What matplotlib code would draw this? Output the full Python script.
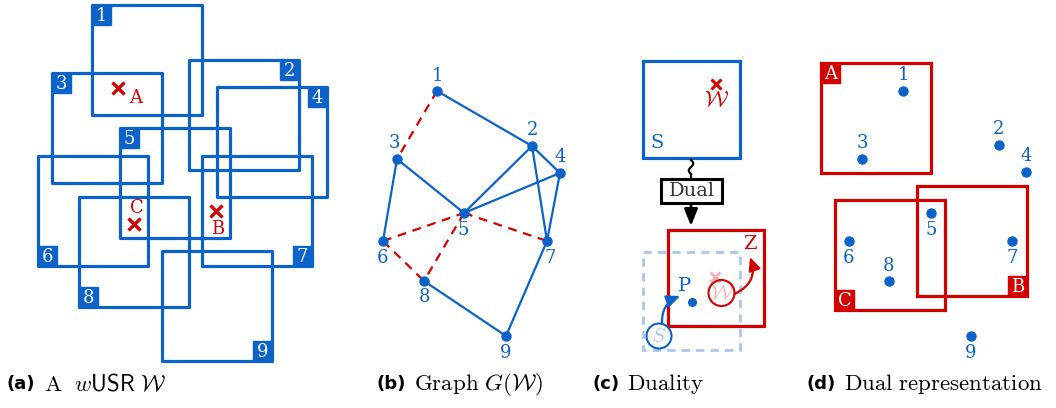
import numpy as np
import matplotlib
matplotlib.use("Agg")
import matplotlib.pyplot as plt
from matplotlib.patches import Rectangle, Circle, FancyArrowPatch

plt.rcParams['mathtext.fontset'] = 'cm'

BLUE = "#0b63c9"
RED = "#d40000"
LBLUE = "#a9c8ec"

# ---------------- data ----------------
# panel (a): squares (label, left, top) in pixel units, side ~110
sq_labels = ["1", "2", "3", "4", "5", "6", "7", "8", "9"]
sq_left = [92, 189, 52, 217, 120, 38, 202, 79, 162]
sq_top = [5, 60, 73, 87, 128, 156, 156, 197, 251]
sq_corner = ["tl", "tr", "tl", "tr", "tl", "bl", "br", "bl", "br"]
SQ = 110

# points A, B, C in panel (a)
pt_labels = ["A", "B", "C"]
pt_x = [118, 216, 134]
pt_y = [88, 211, 224]
pt_label_off = [(18, 10), (2, 18), (3, -16)]

# panel (b): graph nodes
node_labels = ["1", "2", "3", "4", "5", "6", "7", "8", "9"]
node_x = [437, 532, 397, 560, 464, 383, 547, 424, 506]
node_y = [91, 146, 159, 173, 213, 241, 241, 281, 336]
node_lab_off = [(0, -15), (0, -16), (-3, -16), (0, -16), (-1, 17), (-1, 17), (3, 17), (0, 16), (0, 17)]
edges_solid = [(1, 2), (3, 5), (3, 6), (2, 5), (2, 4), (2, 7), (4, 5), (4, 7), (7, 9), (8, 9)]
edges_dashed = [(1, 3), (6, 5), (5, 7), (6, 8), (5, 8)]

# panel (d): dual points and red squares
dual_x = [903, 999, 862, 1026, 931, 849, 1012, 889, 971]
dual_y = [91, 145, 159, 172, 213, 241, 241, 281, 336]
dual_lab_off = [(0, -16), (0, -16), (0, -16), (0, -16), (0, 17), (0, 17), (0, 17), (0, -15), (0, 17)]
red_labels = ["A", "B", "C"]
red_left = [821, 917, 835]
red_top = [63, 186, 200]
red_corner = ["tl", "br", "bl"]

captions = [r"$\mathrm{A}\ \ w\mathsf{USR}\ \mathcal{W}$", r"$\mathrm{Graph}\ G(\mathcal{W})$",
            r"$\mathrm{Duality}$", r"$\mathrm{Dual\ representation}$"]
caption_tags = ["(a)", "(b)", "(c)", "(d)"]
caption_x = [7, 376, 592, 806]

# ---------------- figure ----------------
fig = plt.figure(figsize=(10.56, 4.08), dpi=100)
ax = fig.add_axes([0, 0, 1, 1])
ax.set_xlim(0, 1056)
ax.set_ylim(408, 0)
ax.axis("off")

LW = 2.3
BW, BH = 19, 20


def tag_box(x0, y0, corner, text, color):
    if corner == "tl":
        bx, by = x0, y0
    elif corner == "tr":
        bx, by = x0 + SQ - BW, y0
    elif corner == "bl":
        bx, by = x0, y0 + SQ - BH
    else:
        bx, by = x0 + SQ - BW, y0 + SQ - BH
    ax.add_patch(Rectangle((bx, by), BW, BH, facecolor=color, edgecolor=color, lw=1, zorder=3))
    ax.text(bx + BW / 2, by + BH / 2 + 1, text, color="white", ha="center", va="center",
            fontsize=13, family="DejaVu Serif", zorder=4)


# panel (a)
for lab, l, t, c in zip(sq_labels, sq_left, sq_top, sq_corner):
    ax.add_patch(Rectangle((l, t), SQ, SQ, fill=False, edgecolor=BLUE, lw=LW, zorder=2,
                           joinstyle="round"))
    tag_box(l, t, c, lab, BLUE)

for lab, x, y, off in zip(pt_labels, pt_x, pt_y, pt_label_off):
    ax.plot(x, y, marker="x", ms=9, mew=2.4, color=RED, zorder=5)
    ax.text(x + off[0], y + off[1], lab, color=RED, ha="center", va="center",
            fontsize=13, family="DejaVu Serif", zorder=5)

# panel (b)
for a, b in edges_solid:
    ax.plot([node_x[a - 1], node_x[b - 1]], [node_y[a - 1], node_y[b - 1]], color=BLUE, lw=1.6, zorder=2)
for a, b in edges_dashed:
    ax.plot([node_x[a - 1], node_x[b - 1]], [node_y[a - 1], node_y[b - 1]], color=RED, lw=1.6,
            ls=(0, (4, 3)), zorder=2)
ax.plot(node_x, node_y, "o", ms=6.5, color=BLUE, zorder=3)
for lab, x, y, off in zip(node_labels, node_x, node_y, node_lab_off):
    ax.text(x + off[0], y + off[1], lab, color=BLUE, ha="center", va="center",
            fontsize=13, family="DejaVu Serif")

# panel (c)
ax.add_patch(Rectangle((643, 61), 97, 97, fill=False, edgecolor=BLUE, lw=LW))
ax.text(657, 143, "S", color=BLUE, ha="center", va="center", fontsize=14, family="DejaVu Serif")
ax.plot(716, 84, marker="x", ms=7, mew=2.2, color=RED)
ax.text(716, 101, r"$\mathcal{W}$", color=RED, ha="center", va="center", fontsize=16)
# squiggle
ys = np.linspace(160, 174, 60)
ax.plot(691 + 2.2 * np.sin((ys - 160) / 14 * 2 * np.pi), ys, color="black", lw=1.6)
ax.plot([691, 691], [174, 178], color="black", lw=1.6)
ax.add_patch(Rectangle((661, 178.5), 61, 24, facecolor="white", edgecolor="black", lw=2.2, zorder=3))
ax.text(691.5, 191, "Dual", ha="center", va="center", fontsize=14, family="DejaVu Serif",
        color="#333333", zorder=4)
ax.add_patch(FancyArrowPatch((691, 203), (691, 226), arrowstyle="-|>,head_length=10,head_width=4",
                             color="black", lw=2, mutation_scale=1, shrinkA=0, shrinkB=0))
ax.add_patch(Rectangle((668, 230), 96, 96, fill=False, edgecolor=RED, lw=LW, zorder=2))
ax.add_patch(Rectangle((643, 252), 97, 98, fill=False, edgecolor=LBLUE, lw=2, ls=(0, (3, 2.2)), zorder=1))
ax.plot(692, 302, "o", ms=5.5, color=BLUE, zorder=4)
ax.text(685, 286, "P", color=BLUE, ha="center", va="center", fontsize=14, family="DejaVu Serif")
ax.add_patch(Circle((659, 336), 12.5, fill=False, edgecolor=BLUE, lw=1.5, zorder=4))
ax.text(659, 336, r"$S$", color=LBLUE, ha="center", va="center", fontsize=15, zorder=4)
ax.add_patch(FancyArrowPatch((662, 323.5), (680, 296), connectionstyle="arc3,rad=-0.35",
                             arrowstyle="-|>,head_length=8,head_width=3.6", color=BLUE, lw=1.6,
                             mutation_scale=1, shrinkA=0, shrinkB=0, zorder=5))
ax.add_patch(Circle((721.5, 293), 13, facecolor="white", edgecolor=RED, lw=1.5, zorder=4))
ax.plot(715, 277, marker="x", ms=7, mew=2, color=RED, alpha=0.3, zorder=5)
ax.text(721.5, 294, r"$\mathcal{W}$", color=RED, alpha=0.3, ha="center", va="center", fontsize=15, zorder=5)
ax.add_patch(FancyArrowPatch((734.5, 294), (750, 257), connectionstyle="arc3,rad=0.45",
                             arrowstyle="-|>,head_length=8,head_width=3.6", color=RED, lw=1.6,
                             mutation_scale=1, shrinkA=0, shrinkB=0, zorder=5))
ax.text(750, 244, "Z", color=RED, ha="center", va="center", fontsize=14, family="DejaVu Serif")

# panel (d)
for lab, l, t, c in zip(red_labels, red_left, red_top, red_corner):
    ax.add_patch(Rectangle((l, t), SQ, SQ, fill=False, edgecolor=RED, lw=LW, zorder=2))
    tag_box(l, t, c, lab, RED)
ax.plot(dual_x, dual_y, "o", ms=6.5, color=BLUE, zorder=3)
for lab, x, y, off in zip(node_labels, dual_x, dual_y, dual_lab_off):
    ax.text(x + off[0], y + off[1], lab, color=BLUE, ha="center", va="center",
            fontsize=13, family="DejaVu Serif")

# captions
for tag, cap, x in zip(caption_tags, captions, caption_x):
    t = ax.text(x, 384, tag, ha="left", va="center", fontsize=13, fontweight="bold", family="DejaVu Sans")
    ax.annotate(cap, xy=(1, 0.5), xycoords=t, xytext=(6, 0), textcoords="offset points",
                ha="left", va="center", fontsize=16.5)

fig.savefig("out.png", dpi=100)
